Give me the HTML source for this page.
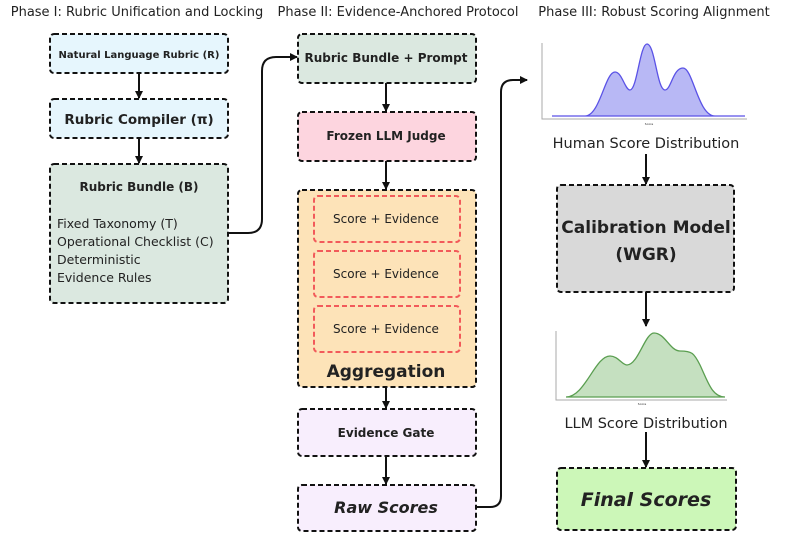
<!DOCTYPE html>
<html><head><meta charset="utf-8"><style>
body{margin:0;background:#fff}
svg{display:block}
text{font-family:"DejaVu Sans","Liberation Sans",sans-serif;fill:#222}
.b{font-weight:bold}
</style></head><body>
<svg width="793" height="533" viewBox="0 0 793 533" xmlns="http://www.w3.org/2000/svg">
<defs><marker id="a" markerWidth="8" markerHeight="8" refX="7" refY="4" orient="auto" markerUnits="userSpaceOnUse"><path d="M0,0 L8,4 L0,8 z" fill="#111"/></marker></defs>
<g font-size="13">
<text x="137" y="16" text-anchor="middle">Phase I: Rubric Unification and Locking</text>
<text x="398" y="16" text-anchor="middle">Phase II: Evidence-Anchored Protocol</text>
<text x="654" y="16" text-anchor="middle">Phase III: Robust Scoring Alignment</text>
</g>
<g stroke="#111" stroke-width="2" stroke-dasharray="5,3">
<rect x="50" y="34" width="178" height="39" rx="4" fill="#e6f6fd"/>
<rect x="50" y="99" width="178" height="39" rx="4" fill="#e6f6fd"/>
<rect x="50" y="164" width="178" height="139" rx="4" fill="#dbe8e0"/>
<rect x="298" y="34" width="178" height="49" rx="4" fill="#dbe8e0"/>
<rect x="298" y="112" width="178" height="49" rx="4" fill="#fdd5df"/>
<rect x="298" y="190" width="178" height="197" rx="4" fill="#fde3b8"/>
<rect x="298" y="409" width="178" height="47" rx="4" fill="#f8eefd"/>
<rect x="298" y="485" width="178" height="46" rx="4" fill="#f8eefd"/>
<rect x="557" y="185" width="177" height="107" rx="4" fill="#d9d9d9"/>
<rect x="557" y="468" width="179" height="62" rx="4" fill="#ccf7b8"/>
</g>
<g stroke="#f25a5a" stroke-width="2" stroke-dasharray="5,3" fill="none">
<rect x="314" y="196" width="146" height="46" rx="4"/>
<rect x="314" y="251" width="146" height="46" rx="4"/>
<rect x="314" y="306" width="146" height="46" rx="4"/>
</g>
<g stroke="#111" stroke-width="2" fill="none" marker-end="url(#a)">
<line x1="139" y1="73" x2="139" y2="98"/>
<line x1="139" y1="138" x2="139" y2="163"/>
<path d="M228,233 H248 Q262,233 262,219 V71 Q262,57 276,57 H297"/>
<line x1="386" y1="83" x2="386" y2="111"/>
<line x1="386" y1="161" x2="386" y2="189"/>
<line x1="386" y1="387" x2="386" y2="408"/>
<line x1="386" y1="456" x2="386" y2="484"/>
<path d="M476,507 H490 Q501,507 501,496 V92 Q501,80 513,80 H527"/>
<line x1="646" y1="154" x2="646" y2="184"/>
<line x1="646" y1="292" x2="646" y2="326"/>
<line x1="646" y1="432" x2="646" y2="467"/>
</g>
<g text-anchor="middle">
<text x="139" y="58" font-size="10" class="b">Natural Language Rubric (R)</text>
<text x="139" y="124" font-size="13.5" class="b">Rubric Compiler (π)</text>
<text x="139" y="191" font-size="12" class="b">Rubric Bundle (B)</text>
<text x="386" y="62" font-size="12" class="b">Rubric Bundle + Prompt</text>
<text x="386" y="140" font-size="12" class="b">Frozen LLM Judge</text>
<text x="386" y="223" font-size="12">Score + Evidence</text>
<text x="386" y="278" font-size="12">Score + Evidence</text>
<text x="386" y="333" font-size="12">Score + Evidence</text>
<text x="386" y="377" font-size="17" class="b">Aggregation</text>
<text x="386" y="437" font-size="12" class="b">Evidence Gate</text>
<text x="386" y="513" font-size="16" class="b" font-style="italic">Raw Scores</text>
<text x="646" y="148" font-size="14.5">Human Score Distribution</text>
<text x="646" y="233" font-size="17" class="b">Calibration Model</text>
<text x="646" y="260" font-size="17" class="b">(WGR)</text>
<text x="646" y="428" font-size="14.5">LLM Score Distribution</text>
<text x="646" y="506" font-size="19" class="b" font-style="italic">Final Scores</text>
</g>
<g font-size="12.5">
<text x="57" y="228">Fixed Taxonomy (T)</text>
<text x="57" y="246">Operational Checklist (C)</text>
<text x="57" y="264">Deterministic</text>
<text x="57" y="282">Evidence Rules</text>
</g>
<polyline points="542,43 542,119 747,119" fill="none" stroke="#aaa" stroke-width="1"/>
<path d="M552,116 L585,116 C600,116 605,72 615,72 C622,72 625,90 630,90 C637,90 640,44 647,44 C655,44 657,90 665,90 C671,90 673,68 683,68 C693,68 698,116 715,116 L745,116 Z" fill="#b8b8f5" stroke="#5a52e6" stroke-width="1.3"/>
<text x="649" y="125" font-size="3" text-anchor="middle">Score</text>
<polyline points="556,331 556,400 727,400" fill="none" stroke="#aaa" stroke-width="1"/>
<path d="M566,397 C585,397 595,356 610,356 C618,356 622,365 627,365 C638,365 645,333 654,333 C665,333 670,351 680,351 C692,351 694,353 700,365 C708,382 712,397 725,397 Z" fill="#c5e0c0" stroke="#5a9e50" stroke-width="1.3"/>
<text x="642" y="405" font-size="3" text-anchor="middle">Score</text>
</svg>
</body></html>
